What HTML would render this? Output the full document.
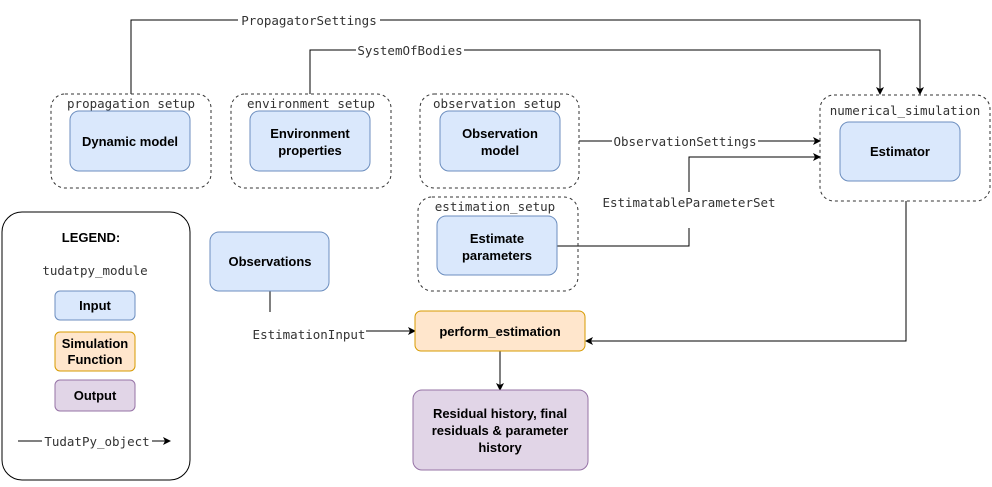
<!DOCTYPE html>
<html><head><meta charset="utf-8"><style>
body{margin:0;background:#fff}
svg text{font-family:"Liberation Sans",sans-serif}
.m{font-family:"DejaVu Sans Mono","Liberation Mono",monospace;font-size:12.5px;fill:#333}
.b{font-weight:bold;font-size:13px;fill:#000;text-anchor:middle}
.d{fill:none;stroke:#333;stroke-dasharray:3,3;stroke-width:1}
.bl{fill:#dae8fc;stroke:#6c8ebf}
.ln{fill:none;stroke:#000;stroke-width:1}
</style></head><body>
<svg width="992" height="482" xmlns="http://www.w3.org/2000/svg">
<defs><marker id="a" markerWidth="8" markerHeight="8" refX="7" refY="4" orient="auto" markerUnits="userSpaceOnUse"><path d="M0,0 L8,4 L0,8 L2,4 z" fill="#000"/></marker></defs>
<!-- connectors -->
<path class="ln" d="M131,94 V20 H920 V94" marker-end="url(#a)"/>
<rect x="238" y="12" width="142" height="16" fill="#fff"/>
<text class="m" x="309" y="25" text-anchor="middle">PropagatorSettings</text>
<path class="ln" d="M310,94 V50 H880 V94" marker-end="url(#a)"/>
<rect x="356" y="42" width="108" height="16" fill="#fff"/>
<text class="m" x="410" y="55" text-anchor="middle">SystemOfBodies</text>
<path class="ln" d="M579,141 H820" marker-end="url(#a)"/>
<rect x="612" y="133" width="146" height="16" fill="#fff"/>
<text class="m" x="685" y="146" text-anchor="middle">ObservationSettings</text>
<path class="ln" d="M557,246 H689 V228 M689,192 V157 H820" marker-end="url(#a)"/>
<text class="m" x="689" y="207" text-anchor="middle">EstimatableParameterSet</text>
<path class="ln" d="M906,201 V341 H586" marker-end="url(#a)"/>
<path class="ln" d="M270,291 V312 M366,331 H415" marker-end="url(#a)"/>
<text class="m" x="309" y="339" text-anchor="middle">EstimationInput</text>
<path class="ln" d="M500,351 V390" marker-end="url(#a)"/>
<!-- containers -->
<rect class="d" x="51" y="94" width="160" height="94" rx="14"/>
<text class="m" x="131" y="108" text-anchor="middle">propagation_setup</text>
<rect class="bl" x="70" y="111" width="120" height="60" rx="9"/>
<text class="b" x="130" y="146">Dynamic model</text>
<rect class="d" x="231" y="94" width="160" height="94" rx="14"/>
<text class="m" x="311" y="108" text-anchor="middle">environment_setup</text>
<rect class="bl" x="250" y="111" width="120" height="60" rx="9"/>
<text class="b" x="310" y="138">Environment</text><text class="b" x="310" y="155">properties</text>
<rect class="d" x="420" y="94" width="159" height="94" rx="14"/>
<text class="m" x="497" y="108" text-anchor="middle">observation_setup</text>
<rect class="bl" x="440" y="111" width="120" height="60" rx="9"/>
<text class="b" x="500" y="138">Observation</text><text class="b" x="500" y="155">model</text>
<rect class="d" x="418" y="197" width="160" height="94" rx="14"/>
<text class="m" x="495" y="211" text-anchor="middle">estimation_setup</text>
<rect class="bl" x="437" y="216" width="120" height="59" rx="9"/>
<text class="b" x="497" y="243">Estimate</text><text class="b" x="497" y="260">parameters</text>
<rect class="d" x="820" y="95" width="170" height="106" rx="14"/>
<text class="m" x="905" y="115" text-anchor="middle">numerical_simulation</text>
<rect class="bl" x="840" y="122" width="120" height="59" rx="9"/>
<text class="b" x="900" y="156">Estimator</text>
<rect class="bl" x="210" y="232" width="119" height="59" rx="9"/>
<text class="b" x="270" y="266">Observations</text>
<rect x="415" y="311" width="170" height="40" rx="6" fill="#ffe6cc" stroke="#d79b00"/>
<text class="b" x="500" y="336">perform_estimation</text>
<rect x="413" y="390" width="175" height="80" rx="9" fill="#e1d5e7" stroke="#9673a6"/>
<text class="b" x="500" y="418">Residual history, final</text>
<text class="b" x="500" y="435">residuals &amp; parameter</text>
<text class="b" x="500" y="452">history</text>
<!-- legend -->
<rect x="2" y="212" width="188" height="268" rx="20" fill="#fff" stroke="#000"/>
<text class="b" x="91" y="242">LEGEND:</text>
<text class="m" x="95" y="275" text-anchor="middle">tudatpy_module</text>
<rect class="bl" x="55" y="291" width="80" height="29" rx="5"/>
<text class="b" x="95" y="310">Input</text>
<rect x="55" y="332" width="80" height="39" rx="5" fill="#ffe6cc" stroke="#d79b00"/>
<text class="b" x="95" y="348">Simulation</text><text class="b" x="95" y="364">Function</text>
<rect x="55" y="380" width="80" height="31" rx="5" fill="#e1d5e7" stroke="#9673a6"/>
<text class="b" x="95" y="400">Output</text>
<path class="ln" d="M18,441 H170" marker-end="url(#a)"/>
<rect x="42" y="433" width="110" height="16" fill="#fff"/>
<text class="m" x="97" y="446" text-anchor="middle">TudatPy_object</text>
</svg>
</body></html>
